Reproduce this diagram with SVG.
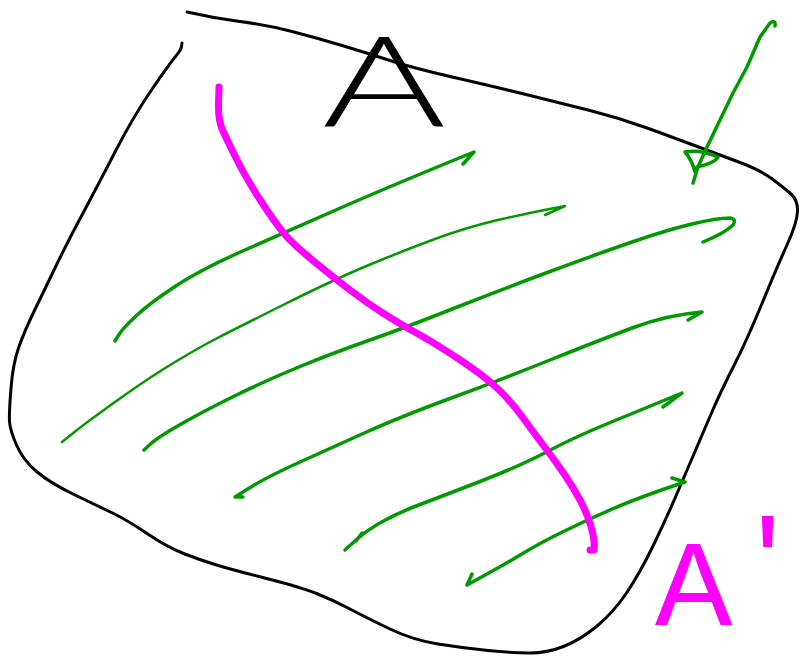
<svg xmlns="http://www.w3.org/2000/svg" width="800" height="656" viewBox="0 0 800 656">
<style>
.ol{fill:none;stroke:#000;stroke-width:3;stroke-linecap:round;stroke-linejoin:round}
.g{fill:none;stroke:#009a00;stroke-width:3.5;stroke-linecap:round;stroke-linejoin:round}
.gt{fill:none;stroke:#009a00;stroke-width:2.5;stroke-linecap:round;stroke-linejoin:round}
.m{fill:none;stroke:#ff00ff;stroke-width:7;stroke-linecap:round;stroke-linejoin:round}
.lblA{font-family:Lato,"Open Sans","Liberation Sans",sans-serif;font-weight:300;fill:#000}
.lblB{font-family:Inter,"Liberation Sans",sans-serif;font-weight:400;fill:#ff00ff}
</style>
<rect width="800" height="656" fill="#fff"/>
<g id="region">
<path class="ol" d="M182,43 L181.5,46.5 Q181,50 175.5,56.5 Q170,63 151.5,90 Q133,117 115,152 Q97,187 82,215 Q67,243 55,268 Q43,293 34,311.5 Q25,330 19,346.5 Q13,363 11,388 Q9,413 9.5,421.5 Q10,430 16.5,445 Q23,460 36.5,471.5 Q50,483 75,495 Q100,507 113.5,513.5 Q127,520 147,533.5 Q167,547 183.5,553.5 Q200,560 216.5,565 Q233,570 266.5,578.5 Q300,587 316.5,593.5 Q333,600 350,609 Q367,618 390,629 Q413,640 438,644 Q463,648 488,650.5 Q513,653 530,653 Q547,653 563.5,646.5 Q580,640 596.5,626.5 Q613,613 626.5,593 Q640,573 653.5,545 Q667,517 677,493.5 Q687,470 693.5,455 Q700,440 710,416.5 Q720,393 733.5,366.5 Q747,340 762,303.5 Q777,267 787,245 Q797,223 797.5,211.5 Q798,200 790.5,193.5 Q783,187 771.5,178.5 Q760,170 740,162.5 Q720,155 700,147.5 Q680,140 650,129 Q620,118 590,110.5 Q560,103 530,95.5 Q500,88 456.5,78 Q413,68 390,60.5 Q367,53 342,45.5 Q317,38 292,31.5 Q267,25 240,21.5 Q213,18 187,12"/>
</g>
<g id="labelA">
<text class="lblA" x="384" y="127" font-size="126" text-anchor="middle" transform="translate(384,0) scale(1.5,1) translate(-384,0)">A</text>
</g>
<g id="labelA2">
<text class="lblB" x="652" y="625" font-size="112" transform="translate(652,0) scale(1.08,1) translate(-652,0)">A<tspan dx="13" dy="-28">'</tspan></text>
</g>
<g id="connectors">
<path class="g" d="M115,341 L119,334.5 Q123,328 136.5,315.5 Q150,303 175,286.5 Q200,270 241.5,251.5 Q283,233 341.5,207.5 Q400,182 474,152 L463,164"/>
<path class="gt" d="M62,442 L74.5,432 Q87,422 118.5,399.5 Q150,377 175,362 Q200,347 216.5,338.5 Q233,330 283,305 Q333,280 366.5,266 Q400,252 433.5,239.5 Q467,227 500,219.5 Q533,212 565,206 L545,215"/>
<path class="g" d="M144,450 L150.5,444 Q157,438 178.5,425.5 Q200,413 233.5,396.5 Q267,380 300,366.5 Q333,353 370,340 Q407,327 453.5,308.5 Q500,290 550,271.5 Q600,253 633.5,241.5 Q667,230 692,224 Q717,218 730,218 Q737,219 733,225 Q725,233 703,242"/>
<path class="g" d="M243,497 L235,497 L251,487 Q267,477 300,462 Q333,447 366.5,432 Q400,417 450,398.5 Q500,380 550,360 Q600,340 633.5,327.5 Q667,315 702,312 L688,320"/>
<path class="g" d="M345,550 L356,540 Q367,530 383.5,521 Q400,512 420,504.5 Q440,497 480,481.5 Q520,466 546.5,452 Q573,438 603,425.5 Q633,413 682,393 L663,407 M356,541 L362,533"/>
<path class="g" d="M467,585 L487,574 Q507,563 523.5,553 Q540,543 563.5,531.5 Q587,520 613.5,508.5 Q640,497 685,482 L672,478 M467,585 L472,574"/>
<path class="g" d="M775,26 Q776,19 770,23 L760,37 L747,67 L733,93 L720,120 L707,147 L698,167 L693,183 M685,152 Q700,149 718,157 Q715,163 697,167 M685,152 Q692,160 695,172" stroke-width="3"/>
<path class="m" d="M219,87 L218.5,103.5 Q218,120 222.5,130 Q227,140 237,160 Q247,180 263.5,205 Q280,230 290,240 Q300,250 316.5,263.5 Q333,277 350,290 Q367,303 383.5,313.5 Q400,324 416.5,333 Q433,342 458,358.5 Q483,375 496.5,387.5 Q510,400 523.5,418.5 Q537,437 546.5,449.5 Q556,462 564.5,474.5 Q573,487 580,500 Q587,513 591,526.5 Q595,540 594,550 L590,550"/>
</g>
</svg>
